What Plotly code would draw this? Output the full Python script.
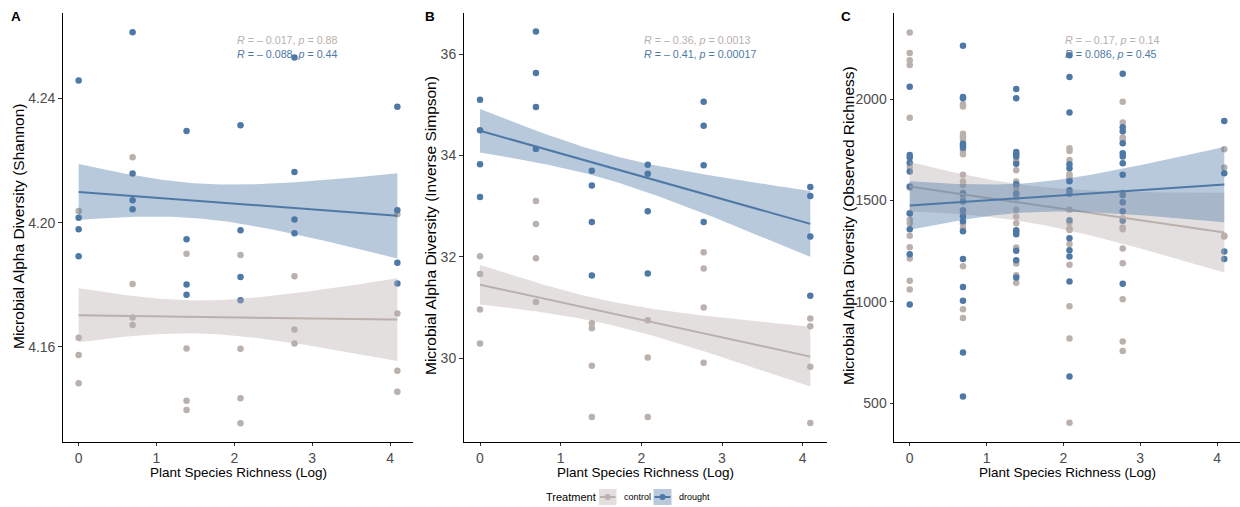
import numpy as np
import plotly.graph_objects as go

# ---------------- data ----------------
richness = [1, 2, 4, 8, 16, 60]            # plant species richness levels
x_levels = list(np.log(richness))          # plotted on log scale

# Panel A: Shannon
shannon_control = [
    [4.2038, 4.1630, 4.1574, 4.1483],
    [4.2211, 4.1803, 4.1695, 4.1671],
    [4.1900, 4.1595, 4.1427, 4.1397],
    [4.1896, 4.1594, 4.1435, 4.1354],
    [4.1828, 4.1656, 4.1611],
    [4.2027, 4.1708, 4.1523, 4.1456],
]
shannon_drought = [
    [4.2458, 4.2016, 4.1979, 4.1892],
    [4.2613, 4.2158, 4.2072, 4.2043],
    [4.2295, 4.1947, 4.1801, 4.1768],
    [4.2314, 4.1976, 4.1825, 4.1750],
    [4.2532, 4.2163, 4.2010, 4.1966],
    [4.2373, 4.2040, 4.1871, 4.1804],
]
# Panel B: Inverse Simpson
invsimpson_control = [
    [32.01, 31.66, 30.96, 30.29],
    [33.10, 32.65, 31.97, 31.11],
    [30.69, 30.59, 29.85, 28.84],
    [30.75, 30.01, 28.84],
    [32.09, 31.77, 31.00, 29.91],
    [30.78, 30.63, 29.83, 28.72],
]
invsimpson_drought = [
    [35.10, 34.50, 33.83, 33.18],
    [36.45, 35.63, 34.96, 34.13],
    [33.70, 33.41, 32.69, 31.63],
    [33.82, 33.64, 32.90, 31.67],
    [35.06, 34.59, 33.81, 32.69],
    [33.38, 33.20, 32.40, 31.23],
]
# Panel C: Observed richness
observed_control = [
    [2329, 2228, 2192, 2169, 1908, 1666, 1564, 1439, 1405, 1388, 1326, 1270, 1214, 1104, 1061],
    [1975, 1964, 1830, 1815, 1801, 1745, 1729, 1627, 1594, 1577, 1539, 1515, 1441, 1386, 1364, 1176, 964, 921],
    [1696, 1650, 1594, 1564, 1539, 1515, 1454, 1421, 1388, 1268, 1189, 1132, 1094],
    [1758, 1745, 1700, 1630, 1618, 1603, 1454, 1391, 1362, 1355, 1286, 1183, 979, 819, 403],
    [1988, 1885, 1811, 1801, 1539, 1413, 1367, 1359, 1263, 1191, 1013, 804, 758],
    [1753, 1663, 1326, 1322],
]
observed_drought = [
    [2062, 1725, 1712, 1687, 1643, 1569, 1436, 1359, 1235, 987],
    [2264, 2011, 2005, 1780, 1771, 1760, 1534, 1495, 1452, 1423, 1398, 1349, 1211, 1074, 1005, 750, 533],
    [2051, 2005, 1740, 1729, 1717, 1681, 1581, 1534, 1354, 1345, 1334, 1252, 1206, 1120],
    [2217, 2110, 1934, 1679, 1660, 1595, 1551, 1534, 1403, 1314, 1255, 1224, 1100, 632],
    [2126, 1862, 1842, 1783, 1734, 1717, 1684, 1627, 1526, 1492, 1447, 1400, 1089],
    [1893, 1635, 1248, 1212],
]

# linear fit: [value at x=0, value at x=max, CI half-width left, min, right]
fit_shannon_control = [4.1702, 4.1688, 0.0087, 0.0053, 0.0133]
fit_shannon_drought = [4.2099, 4.2022, 0.0090, 0.0056, 0.0137]
fit_invsimpson_control = [31.45, 30.03, 0.39, 0.23, 0.59]
fit_invsimpson_drought = [34.49, 32.65, 0.43, 0.25, 0.65]
fit_observed_control = [1569, 1342, 123, 90, 197]
fit_observed_drought = [1475, 1579, 120, 72, 186]

cor_labels = [
    ("R = – 0.017", "p = 0.88", "R = – 0.088", "p = 0.44"),
    ("R = – 0.36", "p = 0.0013", "R = – 0.41", "p = 0.00017"),
    ("R = – 0.17", "p = 0.14", "R = 0.086", "p = 0.45"),
]
y_titles = ["Microbial Alpha Diversity (Shannon)",
            "Microbial Alpha Diversity (Inverse Simpson)",
            "Microbial Alpha Diversity (Observed Richness)"]
panel_letters = ["A", "B", "C"]
y_ticks = [[4.16, 4.20, 4.24], [30, 32, 34, 36], [500, 1000, 1500, 2000]]
y_ticktext = [["4.16", "4.20", "4.24"], ["30", "32", "34", "36"], ["500", "1000", "1500", "2000"]]
y_ranges = [[4.1295, 4.2676], [28.35, 36.82], [310, 2427]]
treatments = ["control", "drought"]

# ---------------- style ----------------
W, H = 1240, 507
COL = {"control": "#BAB0AC", "drought": "#4E79A7"}
FILL = {"control": "rgba(186,176,172,0.4)", "drought": "rgba(78,121,167,0.4)"}
FONT = "Liberation Sans, Arial, sans-serif"

def px(x):
    return x / W

def py(y):
    return (H - y) / H

x_dom = [[62.7, 413.3], [463.5, 826.8], [894.0, 1240.0]]
y_dom = [py(441.7), py(12.7)]
title_x = [19, 431, 849]
letter_x = [16, 430, 846]
cor_x = [235, 641.5, 1063]
x_max = max(x_levels)
x_range = [-0.05 * x_max, x_max * 1.05]

def flat(groups):
    xs, ys = [], []
    for xv, g in zip(x_levels, groups):
        xs += [xv] * len(g)
        ys += g
    return xs, ys

def band(params):
    y0, y1, hL, h0, hR = params
    xg = np.linspace(0, x_max, 120)
    A = hL ** 2 - h0 ** 2
    B = hR ** 2 - h0 ** 2
    xm = x_max / (1 + np.sqrt(B / A))
    k = A / xm ** 2
    c = y0 + (y1 - y0) * xg / x_max
    hw = np.sqrt(h0 ** 2 + k * (xg - xm) ** 2)
    return xg, c, c - hw, c + hw

panels = [
    (shannon_control, shannon_drought, fit_shannon_control, fit_shannon_drought),
    (invsimpson_control, invsimpson_drought, fit_invsimpson_control, fit_invsimpson_drought),
    (observed_control, observed_drought, fit_observed_control, fit_observed_drought),
]

fig = go.Figure()
layout = dict(width=W, height=H, margin=dict(l=0, r=0, t=0, b=0),
              plot_bgcolor="white", paper_bgcolor="white",
              font=dict(family=FONT, color="black"), showlegend=False)
annotations = []
shapes = []

for i, (ctrl, drt, fc, fd) in enumerate(panels):
    sfx = "" if i == 0 else str(i + 1)
    xa, ya = "x" + sfx, "y" + sfx
    # points
    for tr, grp in (("control", ctrl), ("drought", drt)):
        xs, ys = flat(grp)
        fig.add_trace(go.Scatter(x=xs, y=ys, mode="markers", xaxis=xa, yaxis=ya,
                                 marker=dict(size=6.5, color=COL[tr], line=dict(width=0)),
                                 hoverinfo="skip"))
    # smooths
    for tr, par in (("control", fc), ("drought", fd)):
        xg, c, lo, hi = band(par)
        fig.add_trace(go.Scatter(x=list(xg) + list(xg[::-1]), y=list(hi) + list(lo[::-1]),
                                 mode="lines", fill="toself", fillcolor=FILL[tr],
                                 line=dict(width=0), xaxis=xa, yaxis=ya, hoverinfo="skip"))
        fig.add_trace(go.Scatter(x=xg, y=c, mode="lines", line=dict(color=COL[tr], width=2),
                                 xaxis=xa, yaxis=ya, hoverinfo="skip"))
    axis_common = dict(showline=True, linecolor="black", linewidth=1, ticks="outside",
                       ticklen=3.5, tickcolor="#333333", tickwidth=1, showgrid=False,
                       zeroline=False, tickfont=dict(size=14, color="#4D4D4D", family=FONT))
    layout["xaxis" + sfx] = dict(domain=[px(x_dom[i][0]), px(x_dom[i][1])], range=x_range,
                                 tickvals=[0, 1, 2, 3, 4], anchor=ya, **axis_common)
    layout["yaxis" + sfx] = dict(domain=y_dom, range=y_ranges[i], tickvals=y_ticks[i],
                                 ticktext=y_ticktext[i], anchor=xa, **axis_common)
    # axis titles
    annotations.append(dict(text="Plant Species Richness (Log)", xref="paper", yref="paper",
                            x=px((x_dom[i][0] + x_dom[i][1]) / 2), y=py(472),
                            xanchor="center", yanchor="middle", showarrow=False,
                            font=dict(size=13.5, color="black")))
    annotations.append(dict(text=y_titles[i], xref="paper", yref="paper",
                            x=px(title_x[i]), y=py(226), textangle=-90,
                            xanchor="center", yanchor="middle", showarrow=False,
                            font=dict(size=15.5, color="black")))
    annotations.append(dict(text="<b>%s</b>" % panel_letters[i], xref="paper", yref="paper",
                            x=px(letter_x[i]), y=py(17), xanchor="center", yanchor="middle",
                            showarrow=False, font=dict(size=13.5, color="black")))
    rc, pc, rd, pd_ = cor_labels[i]
    for txt_r, txt_p, yy, tr in ((rc, pc, 40, "control"), (rd, pd_, 54, "drought")):
        t = "<i>R</i>" + txt_r[1:] + ", <i>p</i>" + txt_p[1:]
        annotations.append(dict(text=t, xref="paper", yref="paper", x=px(cor_x[i]), y=py(yy),
                                xanchor="left", yanchor="middle", showarrow=False,
                                font=dict(size=10.7, color=COL[tr])))

# legend (bottom)
annotations.append(dict(text="Treatment", xref="paper", yref="paper", x=px(544), y=py(497),
                        xanchor="left", yanchor="middle", showarrow=False,
                        font=dict(size=11, color="black")))
leg_items = [("control", 599, 616.5, 622), ("drought", 653.5, 671.5, 677)]
for tr, x0, x1, xt in leg_items:
    shapes.append(dict(type="rect", xref="paper", yref="paper", x0=px(x0), x1=px(x1),
                       y0=py(505), y1=py(489), fillcolor=FILL[tr], line=dict(width=0), layer="above"))
    shapes.append(dict(type="line", xref="paper", yref="paper", x0=px(x0 + 1), x1=px(x1 - 1),
                       y0=py(497), y1=py(497), line=dict(color=COL[tr], width=2), layer="above"))
    cx = (x0 + x1) / 2
    shapes.append(dict(type="circle", xref="paper", yref="paper", x0=px(cx - 3), x1=px(cx + 3),
                       y0=py(500), y1=py(494), fillcolor=COL[tr], line=dict(width=0), layer="above"))
    annotations.append(dict(text=tr, xref="paper", yref="paper", x=px(xt), y=py(497),
                            xanchor="left", yanchor="middle", showarrow=False,
                            font=dict(size=9, color="black")))

layout["annotations"] = annotations
layout["shapes"] = shapes
fig.update_layout(**layout)
fig.write_html("out.html", config={"displayModeBar": False},
               post_script="document.body.style.margin='0';document.body.style.overflow='hidden';")
